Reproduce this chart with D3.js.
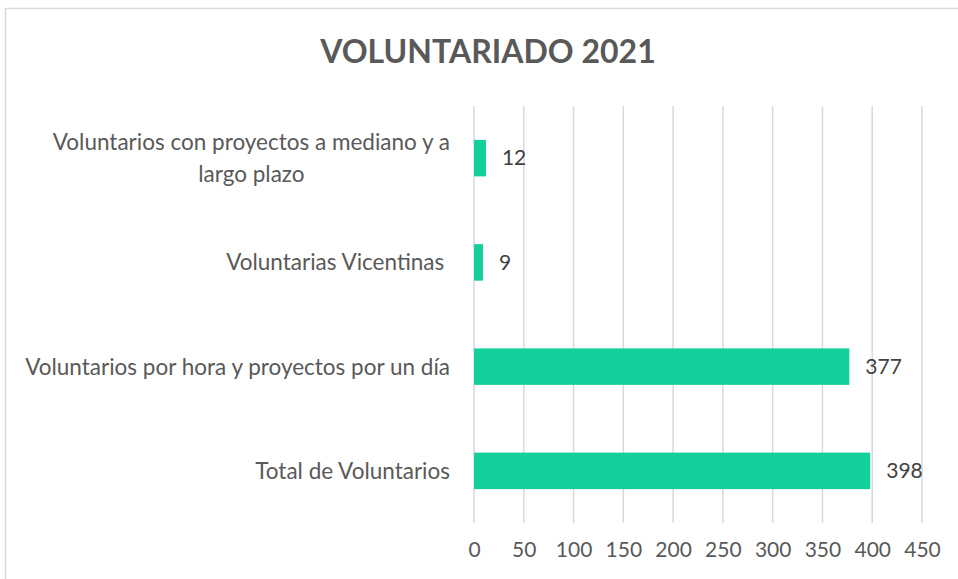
<!DOCTYPE html>
<html>
<head>
<meta charset="utf-8">
<script src="https://cdn.jsdelivr.net/npm/d3@7"></script>
<style>
  body { margin: 0; background: #fff; }
  svg { font-family: Lato, "Open Sans", sans-serif; }
</style>
</head>
<body>
<svg id="chart" width="958" height="579"></svg>
<script>
const title = "VOLUNTARIADO 2021"
const categories = [
    ["Voluntarios con proyectos a mediano y a", "largo plazo"],
    ["Voluntarias Vicentinas "],
    ["Voluntarios por hora y proyectos por un día"],
    ["Total de Voluntarios"]
]
const values = [12, 9, 377, 398]
const ticks = [0, 50, 100, 150, 200, 250, 300, 350, 400, 450]

const width = 958
const height = 579
const margin = { top: 106, right: 36, bottom: 56, left: 474 }

const svg = d3.select("#chart")

// chart border
svg.append("rect")
    .attr("x", 5.5).attr("y", 8.5)
    .attr("width", width).attr("height", height)
    .attr("fill", "none").attr("stroke", "#d9d9d9").attr("stroke-width", 1.5)

svg.append("text")
    .attr("x", 488).attr("y", 63)
    .attr("text-anchor", "middle")
    .attr("font-size", 32).attr("font-weight", "bold")
    .attr("fill", "#595959")
    .text(title)

const x_scale = d3.scaleLinear().domain([0, 450]).range([margin.left, 922])
const y_scale = d3.scaleBand().domain(d3.range(values.length))
    .range([margin.top, height - margin.bottom]).paddingInner(0.65).paddingOuter(0.325)

// gridlines
svg.append("g").selectAll("line").data(ticks).join("line")
    .attr("x1", d => x_scale(d)).attr("x2", d => x_scale(d))
    .attr("y1", margin.top).attr("y2", height - margin.bottom)
    .attr("stroke", "#d9d9d9").attr("stroke-width", 1.5)

// x axis tick labels
const xAxis = svg.append("g")
    .attr("transform", `translate(0,${height - margin.bottom})`)
    .call(d3.axisBottom(x_scale).tickValues(ticks).tickSize(0).tickPadding(19))
xAxis.select(".domain").remove()
xAxis.selectAll("text").attr("font-size", 21).attr("fill", "#595959")
    .attr("font-family", "Lato, sans-serif")

// bars
svg.append("g").selectAll("rect").data(values).join("rect")
    .attr("x", x_scale(0))
    .attr("y", (d, i) => y_scale(i))
    .attr("width", d => x_scale(d) - x_scale(0))
    .attr("height", y_scale.bandwidth())
    .attr("fill", "#13cf9b")

// value labels
svg.append("g").selectAll("text").data(values).join("text")
    .attr("x", d => x_scale(d) + 16)
    .attr("y", (d, i) => y_scale(i) + y_scale.bandwidth() / 2)
    .attr("dy", "0.35em")
    .attr("font-size", 21).attr("fill", "#404040")
    .text(d => d)

// category labels
const lineH = 32
const labels = svg.append("g").selectAll("text").data(categories).join("text")
    .attr("font-size", 22.5).attr("fill", "#595959")
    .style("white-space", "pre")
    .attr("y", (d, i) => y_scale(i) + y_scale.bandwidth() / 2)
labels.each(function (lines) {
    const t = d3.select(this)
    const baseY = +t.attr("y")
    if (lines.length === 1) {
        t.append("tspan").attr("x", 450).attr("text-anchor", "end")
            .attr("y", baseY).attr("dy", "0.35em").text(lines[0])
    } else {
        // wrapped label: centred lines inside a block ending at x=450
        const tmp = t.append("tspan").text(lines[0])
        const w = tmp.node().getComputedTextLength()
        tmp.remove()
        const cx = 450 - w / 2
        lines.forEach((ln, k) => {
            t.append("tspan").attr("x", cx).attr("text-anchor", "middle")
                .attr("y", baseY + (k - (lines.length - 1) / 2) * lineH)
                .attr("dy", "0.35em").text(ln)
        })
    }
})
</script>
</body>
</html>
